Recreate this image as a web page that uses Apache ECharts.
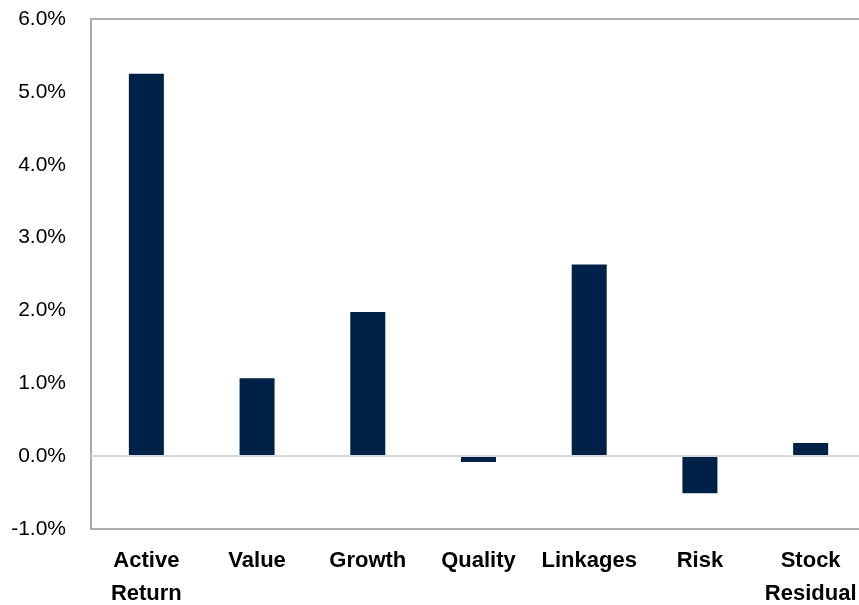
<!DOCTYPE html>
<html>
<head>
<meta charset="utf-8">
<script src="https://cdn.jsdelivr.net/npm/echarts@6/dist/echarts.min.js"></script>
<style>
html,body{margin:0;padding:0;background:#fff;}
#chart{width:859px;height:605px;}
</style>
</head>
<body>
<div id="chart"></div>
<script>
const categories = ['Active\nReturn', 'Value', 'Growth', 'Quality', 'Linkages', 'Risk', 'Stock\nResidual'];
const values = [5.25, 1.07, 1.98, -0.08, 2.63, -0.51, 0.18];
const yMin = -1, yMax = 6, yStep = 1;

const frameLine = {show: true, onZero: false, lineStyle: {color: '#ababab', width: 2}};

const chart = echarts.init(document.getElementById('chart'), null, {renderer: 'canvas'});
chart.setOption({
  animation: false,
  backgroundColor: '#ffffff',
  grid: {
    left: 91, top: 19, right: -7, bottom: 76,
    outerBoundsMode: 'none',
    containLabel: false,
    show: false
  },
  xAxis: [{
    type: 'category',
    position: 'bottom',
    data: categories,
    axisLine: frameLine,
    axisTick: {show: false},
    axisLabel: {
      interval: 0,
      margin: 15,
      color: '#000',
      fontFamily: '"Liberation Sans", Arial, sans-serif',
      fontWeight: 'bold',
      fontSize: 22,
      lineHeight: 33
    }
  }, {
    type: 'category',
    position: 'top',
    data: categories,
    axisLine: frameLine,
    axisTick: {show: false},
    axisLabel: {show: false}
  }],
  yAxis: {
    type: 'value',
    min: yMin, max: yMax, interval: yStep,
    axisLine: frameLine,
    axisTick: {show: false},
    splitLine: {show: false},
    axisLabel: {
      margin: 25,
      color: '#000',
      fontFamily: '"Liberation Sans", Arial, sans-serif',
      fontSize: 21,
      formatter: v => v.toFixed(1) + '%'
    }
  },
  series: [{
    type: 'bar',
    xAxisIndex: 0,
    data: values,
    barWidth: 35,
    itemStyle: {color: '#002147'},
    markLine: {
      silent: true,
      symbol: 'none',
      label: {show: false},
      lineStyle: {color: '#d9d9d9', width: 2, type: 'solid'},
      data: [{yAxis: 0}]
    }
  }]
});
</script>
</body>
</html>
